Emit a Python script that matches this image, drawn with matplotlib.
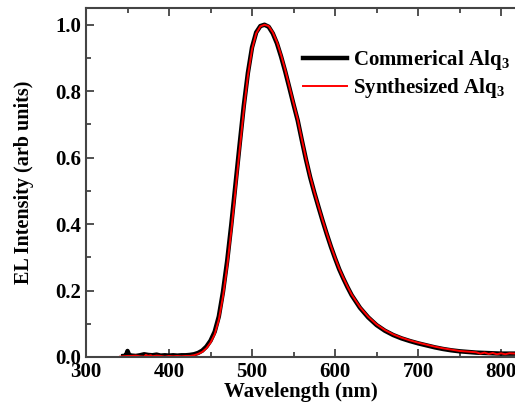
import matplotlib
matplotlib.use('Agg')
import matplotlib.pyplot as plt
from matplotlib.ticker import MultipleLocator

plt.rcParams['font.family'] = 'Liberation Serif'
plt.rcParams['font.weight'] = 'bold'
plt.rcParams['mathtext.fontset'] = 'custom'
plt.rcParams['mathtext.rm'] = 'Liberation Serif:bold'

# wavelength (nm) and EL intensity
wl_com = [345, 348, 350, 352, 355, 360, 365, 370, 375, 380, 385, 390, 395, 400,
          405, 410, 415, 420, 425, 430, 435, 440, 445, 450, 455, 460, 465, 470,
          475, 480, 485, 490, 495, 500, 505, 510, 515, 520, 525, 530, 535, 540,
          545, 550, 555, 560, 565, 570, 575, 580, 585, 590, 595, 600, 605, 610,
          615, 620, 630, 640, 650, 660, 670, 680, 690, 700, 710, 720, 730, 740,
          750, 760, 770, 780, 790, 800, 810, 818]
int_com = [0.003, 0.004, 0.018, 0.006, 0.004, 0.003, 0.005, 0.008, 0.006, 0.005,
           0.007, 0.004, 0.005, 0.004, 0.005, 0.004, 0.005, 0.005, 0.006, 0.008,
           0.012, 0.019, 0.031, 0.049, 0.076, 0.122, 0.196, 0.288, 0.398, 0.518,
           0.638, 0.755, 0.855, 0.932, 0.977, 0.996, 1.000, 0.994, 0.974, 0.944,
           0.904, 0.859, 0.810, 0.760, 0.712, 0.652, 0.594, 0.541, 0.495, 0.452,
           0.410, 0.370, 0.332, 0.297, 0.264, 0.236, 0.210, 0.186, 0.148, 0.119,
           0.096, 0.079, 0.066, 0.056, 0.048, 0.041, 0.035, 0.029, 0.024, 0.020,
           0.017, 0.015, 0.013, 0.012, 0.011, 0.010, 0.010, 0.010]

wl_syn = [341, 345, 350, 355, 360, 365, 370, 372, 375, 378, 380, 385, 390, 395,
          400, 405, 410, 415, 420, 425, 430, 435, 440, 445, 450, 455, 460, 465,
          470, 475, 480, 485, 490, 495, 500, 505, 510, 515, 520, 525, 530, 535,
          540, 545, 550, 555, 560, 565, 570, 575, 580, 585, 590, 595, 600, 605,
          610, 615, 620, 630, 640, 650, 660, 670, 680, 690, 700, 710, 720, 730,
          740, 750, 760, 770, 775, 780, 785, 790, 795, 800, 805, 810, 818]
int_syn = [0.001, 0.002, 0.003, 0.003, 0.004, 0.002, 0.001, 0.006, 0.003, 0.005,
           0.002, 0.004, 0.003, 0.001, 0.003, 0.002, 0.003, 0.002, 0.003, 0.003,
           0.005, 0.009, 0.015, 0.026, 0.043, 0.068, 0.112, 0.182, 0.272, 0.380,
           0.500, 0.622, 0.742, 0.846, 0.926, 0.974, 0.995, 1.000, 0.996, 0.977,
           0.948, 0.909, 0.864, 0.814, 0.764, 0.715, 0.655, 0.597, 0.544, 0.497,
           0.454, 0.412, 0.372, 0.334, 0.299, 0.266, 0.238, 0.212, 0.188, 0.150,
           0.121, 0.098, 0.081, 0.068, 0.058, 0.050, 0.043, 0.037, 0.031, 0.026,
           0.022, 0.018, 0.016, 0.014, 0.010, 0.013, 0.009, 0.012, 0.008, 0.011,
           0.008, 0.011, 0.010]

fig = plt.figure(figsize=(5.15, 4.07), dpi=100)
ax = fig.add_axes([0.167, 0.123, 0.835, 0.857])

ax.plot(wl_com, int_com, color='black', lw=3.2, label='Commerical Alq$_3$')
ax.plot(wl_syn, int_syn, color='red', lw=1.4, label='Synthesized Alq$_3$')

ax.set_xlim(300, 818)
ax.set_ylim(0, 1.05)
ax.xaxis.set_major_locator(MultipleLocator(100))
ax.xaxis.set_minor_locator(MultipleLocator(50))
ax.yaxis.set_major_locator(MultipleLocator(0.2))
ax.yaxis.set_minor_locator(MultipleLocator(0.1))
ax.tick_params(which='both', direction='in', top=True, labelsize=15, colors='#333333',
               labelcolor='black', width=1.2)
ax.tick_params(which='major', length=6)
ax.tick_params(which='minor', length=3.5)
ax.tick_params(axis='x', pad=4)
ax.spines['right'].set_visible(False)
for s in ['left', 'bottom', 'top']:
    ax.spines[s].set_linewidth(1.5)
    ax.spines[s].set_color('#444444')

ax.set_xlabel('Wavelength (nm)', fontsize=15, fontweight='bold', labelpad=0)
ax.set_ylabel('EL Intensity (arb units)', fontsize=14.5, fontweight='bold')
ax.yaxis.set_label_coords(-0.122, 0.5)

ax.legend(loc='upper right', bbox_to_anchor=(1.03, 0.94), frameon=False,
          fontsize=15, handlelength=2.1, handletextpad=0.3, labelspacing=0.2)

fig.savefig('out.png', dpi=100)
